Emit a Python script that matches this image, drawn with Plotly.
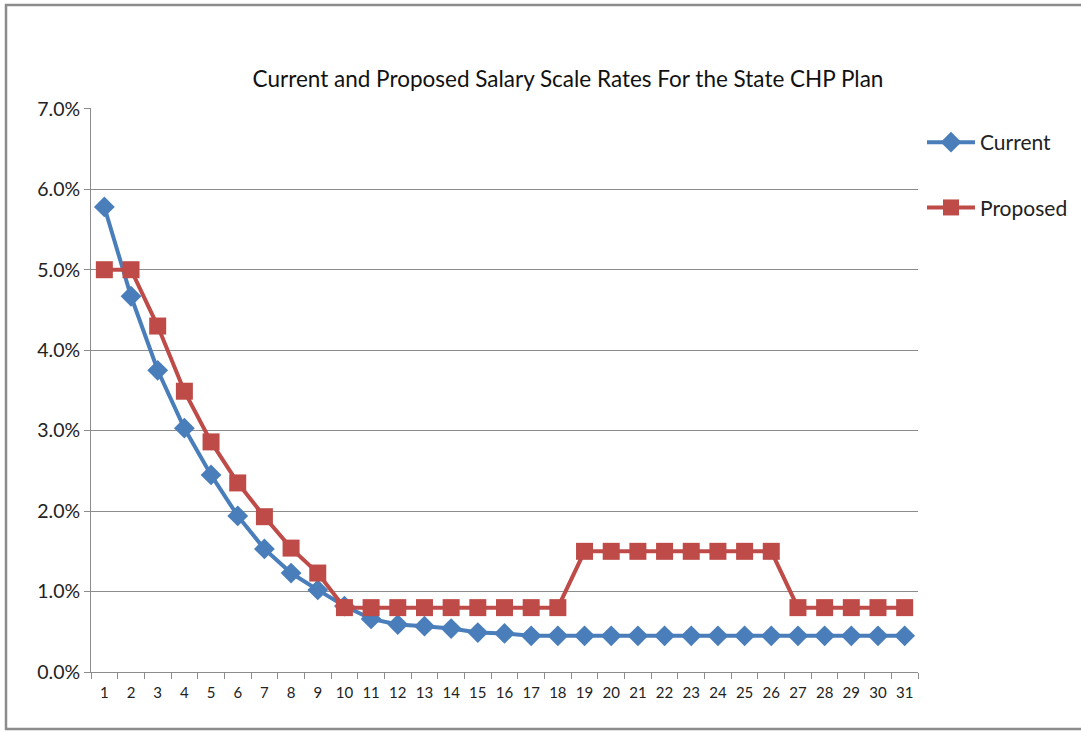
import plotly.graph_objects as go

# Years of service 1..31
years = [str(i) for i in range(1, 32)]

# Salary scale rates (as fractions)
current = [0.0578, 0.0467, 0.0375, 0.0303, 0.0245, 0.0194, 0.0153, 0.0123, 0.0102, 0.0082,
           0.0066, 0.0059, 0.0057, 0.0054, 0.0049, 0.0048, 0.0045, 0.0045, 0.0045, 0.0045,
           0.0045, 0.0045, 0.0045, 0.0045, 0.0045, 0.0045, 0.0045, 0.0045, 0.0045, 0.0045,
           0.0045]
proposed = [0.050, 0.050, 0.0430, 0.0349, 0.0286, 0.0235, 0.0193, 0.0154, 0.0123, 0.0080,
            0.0080, 0.0080, 0.0080, 0.0080, 0.0080, 0.0080, 0.0080, 0.0080, 0.0150, 0.0150,
            0.0150, 0.0150, 0.0150, 0.0150, 0.0150, 0.0150, 0.0080, 0.0080, 0.0080, 0.0080,
            0.0080]

y_ticks = [0, 0.01, 0.02, 0.03, 0.04, 0.05, 0.06, 0.07]

BLUE = "#4A7EBB"
RED = "#BE4B48"
FONT = "Lato, 'Open Sans', sans-serif"

W, H = 1081, 732
L, R, T, B = 91, 918, 108, 672
pw, ph = R - L, B - T

fig = go.Figure()
fig.add_trace(go.Scatter(
    x=years, y=current, name="Current", mode="lines+markers", legendgroup="c",
    line=dict(color=BLUE, width=4),
    marker=dict(symbol="diamond", size=16, color=BLUE),
))
fig.add_trace(go.Scatter(
    x=years, y=proposed, name="Proposed", mode="lines+markers", legendgroup="p",
    line=dict(color=RED, width=4),
    marker=dict(symbol="square", size=17, color=RED),
))

# outer chart border
fig.add_shape(type="rect", xref="paper", yref="paper",
              x0=(6 - L) / pw, x1=(1090 - L) / pw,
              y0=(B - 729) / ph, y1=(B - 5) / ph,
              line=dict(color="#8C8C8C", width=2.5), fillcolor="rgba(0,0,0,0)",
              layer="below")

fig.update_layout(
    width=W, height=H,
    margin=dict(l=L, r=W - R, t=T, b=H - B, autoexpand=False),
    paper_bgcolor="white", plot_bgcolor="white",
    font=dict(family=FONT, color="#222222"),
    title=dict(text="Current and Proposed Salary Scale Rates For the State CHP Plan",
               x=(568 - L) / pw, xref="paper", xanchor="center",
               y=1 - 79 / H, yref="container", yanchor="middle",
               font=dict(size=22.5, family=FONT, color="#111111")),
    showlegend=True,
    legend=dict(x=(922 - L) / pw, xanchor="left", y=(B - 122) / ph, yanchor="top",
                font=dict(size=21, family=FONT, color="#222222"),
                tracegroupgap=35, itemwidth=48, bgcolor="rgba(0,0,0,0)"),
    xaxis=dict(type="category", range=[-0.5, 30.5], tickson="boundaries",
               showline=True, linecolor="#8C8C8C", linewidth=1,
               ticks="outside", ticklen=6, tickcolor="#8C8C8C", tickangle=0,
               ticklabelstandoff=7,
               showgrid=False, tickfont=dict(size=15, family=FONT, color="#222222"),
               fixedrange=True),
    yaxis=dict(range=[0, 0.0701], tickvals=y_ticks, tickformat=".1%",
               showline=True, linecolor="#8C8C8C", linewidth=1,
               ticks="outside", ticklen=6, tickcolor="#8C8C8C",
               showgrid=True, gridcolor="#8C8C8C", gridwidth=1,
               zeroline=False, tickfont=dict(size=19.5, family=FONT, color="#222222"),
               fixedrange=True),
)

fig.write_html("out.html")
